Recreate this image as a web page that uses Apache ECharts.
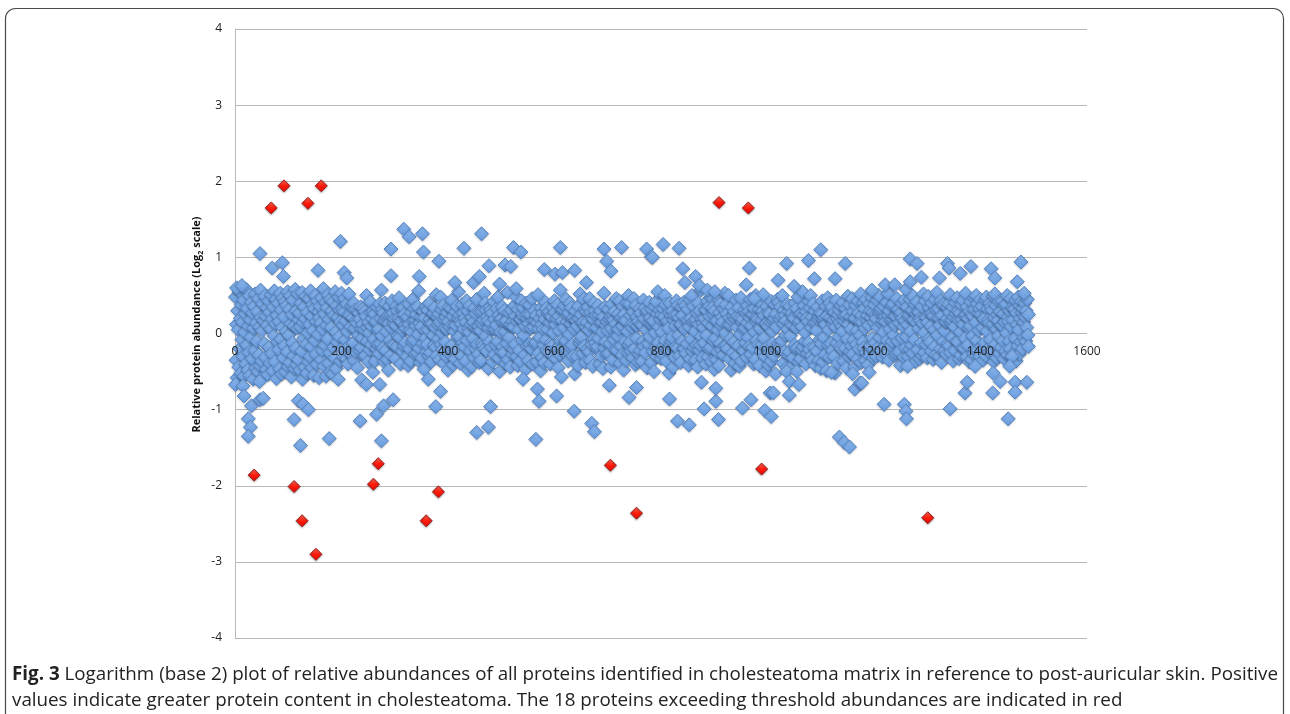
<!DOCTYPE html>
<html>
<head>
<meta charset="utf-8">
<script src="https://cdn.jsdelivr.net/npm/echarts@6/dist/echarts.min.js"></script>
<style>
html,body{margin:0;padding:0;background:#fff}
#main{width:1290px;height:714px}
</style>
</head>
<body>
<div id="main"></div>
<script>
// log2 ratios, x = protein index (1..1490), only the dense band around 0
const bandY = [
.48,-.35,.12,-.58,.3,.05,-.44,.55,-.2,.2,-.52,.38,-.08,.15,-.3,.44,-.56,.02,.26,-.4,
.58,-.15,.33,-.48,.1,-.25,.5,-.55,.18,-.05,.41,-.33,.27,-.6,.07,.36,-.22,.52,-.45,.14,
-.1,.29,-.5,.46,-.28,.09,-.42,.57,.21,-.36,.04,.39,-.57,.17,-.13,.49,-.31,.23,-.47,.34,
.11,-.54,.43,-.18,.28,-.39,.06,.51,-.26,.19,-.49,.35,-.03,.56,-.37,.13,.45,-.59,.24,-.11,
.4,-.21,.16,-.46,.53,-.07,.31,-.53,.08,.47,-.32,.22,-.16,.42,-.5,.03,.37,-.24,.55,-.43,
-.02,.32,-.38,.5,.13,-.57,.25,-.12,.44,-.29,.1,-.46,.58,-.19,.3,-.41,.07,.52,-.34,.18,
.27,-.48,.09,.4,-.23,.54,-.6,.15,-.06,.35,-.44,.2,.49,-.14,-.52,.28,.01,-.37,.46,.12,
-.3,.56,-.17,.23,-.45,.38,.04,-.55,.33,-.09,.5,-.27,.16,-.4,.43,-.01,.29,-.58,.21,.36,
.14,-.34,.47,-.22,.06,.59,-.43,.26,-.15,.41,-.56,.11,.34,-.07,.51,-.39,.19,-.25,.45,-.5,
.08,.3,-.53,.42,-.18,.24,-.32,.55,.02,-.46,.37,-.11,.22,-.6,.48,-.04,.31,-.36,.16,.53,
-.2,.33,.11,-.31,.29,.46,-.08,.17,-.33,.39,.03,-.4,.25,.52,-.16,.24,-.27,.09,.37,-.28,
.21,-.12,.4,-.35,.07,.31,-.24,.18,.14,-.45,.3,-.02,.27,-.22,.19,.35,-.18,.06,-.06,.12,
.33,-.3,.05,.29,-.29,.23,.5,-.1,.08,-.37,.15,.01,-.21,.42,.28,-.14,.1,.2,-.51,.3,
-.07,.26,-.36,.14,.16,-.2,.35,-.14,.03,.06,-.26,.39,-.13,.2,.57,-.03,.32,-.19,.27,-.37,
.18,.4,-.22,.03,.21,-.34,.24,-.48,.13,.36,-.09,.25,-.28,.08,.43,-.14,.27,.14,-.15,.19,
-.33,.11,.36,-.17,.3,-.03,.2,.47,-.05,.17,-.4,.16,.32,-.23,.04,.34,-.16,.25,.11,-.12,
.07,.2,-.3,.22,-.42,.39,.12,-.2,.04,-.36,.28,.02,-.11,.45,.17,-.08,.33,-.27,.18,.1,
.25,-.25,.35,-.01,.56,-.19,.14,-.38,.22,.09,-.32,.3,-.13,.29,-.47,.21,.04,-.06,.36,-.24,
-.14,.31,.05,-.29,.4,.19,-.25,.13,-.37,.13,.26,-.02,.27,-.15,.34,.08,-.18,.51,-.29,.22,
.12,-.07,.26,-.34,.15,.48,-.14,.32,.01,-.21,.37,-.39,.18,.07,-.11,.22,-.3,.06,.28,-.48,
.16,.35,-.26,.09,-.2,.33,.44,-.15,.23,-.41,.1,.03,-.33,.29,.11,-.22,.36,-.05,.2,.55,
-.04,.24,-.39,.17,.13,-.29,.38,-.12,.27,.06,-.17,.2,-.36,.15,.43,-.09,.3,-.48,.07,.02,
.37,-.23,.12,.22,-.43,.21,-.06,.15,-.31,.34,.08,-.2,.26,.45,-.14,.09,-.27,.1,-.38,.28,
.04,-.35,.14,-.12,.29,-.16,.18,.53,-.2,.4,-.03,.31,-.23,.22,.17,-.46,.07,-.11,.35,.14,
.31,-.18,.27,-.37,.06,.42,-.28,.19,.06,-.15,.11,.33,-.1,.48,-.32,.24,-.5,.19,.02,-.24,
.2,.35,-.17,.14,-.25,.3,.03,-.39,.14,.17,-.13,.54,-.34,.28,-.05,.11,-.44,.12,.31,-.19,
-.27,.16,.09,-.21,.37,-.14,.23,.48,-.3,.16,-.42,.32,.05,-.22,.19,-.36,.19,.43,-.08,.26,
.34,-.02,.22,-.28,.1,-.47,.4,.21,-.16,.25,-.35,.13,.38,-.14,.25,.07,-.2,.46,-.4,.17,
.09,-.13,.3,.18,-.11,.24,-.37,.14,.51,-.26,.06,-.05,.2,-.49,.34,.12,-.31,.27,.06,-.15,
-.38,.19,.41,-.08,.33,-.22,.06,.27,-.24,.29,.15,-.4,.23,-.12,.22,-.16,.35,.01,-.3,.43,
.28,.12,-.33,.2,-.19,.38,-.45,.23,.04,-.27,.57,-.1,.31,-.2,.17,.32,-.23,.08,.37,-.11,
-.09,.45,-.21,.16,.24,-.36,.27,-.01,.4,-.18,.13,.34,-.15,.19,-.3,.21,.06,-.53,.3,.18,
.17,-.3,.1,-.42,.36,.2,-.12,.52,-.08,.25,-.04,.14,-.26,.15,.45,-.17,.32,-.38,.09,.29,
.15,-.2,.35,.05,-.24,.46,-.35,.28,.11,-.14,.21,-.43,.19,.4,-.07,.3,-.12,.24,.08,-.2,
-.17,.37,-.06,.25,-.4,.14,.3,-.29,.15,.02,-.46,.22,.53,-.19,.35,-.11,.11,-.27,.16,.04,
.32,-.26,.19,-.13,.23,-.44,.07,.39,-.34,.24,.18,-.08,.29,-.21,.13,.46,-.22,.05,-.03,.26,
.06,.43,-.39,.2,-.16,.22,-.28,.1,.36,-.48,.25,.17,-.1,.17,-.35,.4,.03,-.25,.5,-.15,
.39,-.11,.24,-.23,.12,.08,-.32,.29,.46,-.2,.12,-.41,.37,-.06,.22,.1,-.37,.16,-.27,.33,
-.22,.27,.13,-.36,.11,-.1,.44,-.17,.2,.34,-.25,.05,.28,-.45,.3,-.13,.14,.41,-.04,.21,
.13,-.38,.32,.16,-.23,.17,-.5,.36,.01,-.18,.42,-.3,.26,.55,-.12,.09,-.24,.31,.19,-.33,
.25,.02,-.27,.33,-.16,.22,.5,-.09,.38,-.36,.15,-.21,.17,.07,-.52,.28,.4,-.14,.24,-.1,
-.05,.3,-.44,.18,.24,-.31,.1,-.17,.43,.25,-.19,.37,-.02,.21,-.29,.12,-.38,.12,.35,-.1,
.24,-.19,.41,-.2,.06,.37,-.26,.16,-.13,.18,.32,-.42,.09,.45,-.33,.2,-.07,.5,-.23,.15,
.36,-.18,.17,.03,-.35,.19,-.15,.27,-.44,.4,.12,-.22,.3,-.15,.57,-.04,.19,-.32,.14,.08,
-.12,.2,.32,-.4,.31,-.02,.43,-.3,.14,-.2,.36,.23,-.18,.48,-.37,.1,.34,-.09,.25,-.47,
.3,-.06,.16,-.34,.17,-.24,.05,.45,-.42,.28,-.13,.39,.11,-.21,.22,.15,-.28,.33,-.16,.53,
.01,.38,-.15,.26,-.2,.12,.5,-.33,.21,.12,-.07,-.48,.35,.17,-.25,.24,-.11,.29,-.39,.19,
.44,-.29,.08,.23,-.16,.34,-.43,.2,-.01,.47,-.36,.15,.19,-.21,.06,-.23,.31,.08,-.12,.27,
-.31,.14,.37,-.05,.29,-.17,.21,.45,-.27,.1,.26,-.18,.25,-.4,.33,.02,-.34,.5,.16,-.09,
.22,.19,-.14,.32,-.42,.07,.4,-.23,.18,-.14,.3,.51,-.06,.24,-.3,.13,-.49,.13,.36,-.17,
.1,-.41,.28,.26,-.25,.15,-.36,.42,.03,-.13,.17,-.29,.2,.38,-.53,.26,.09,-.21,.45,-.13,
.41,-.16,.19,-.18,.35,.23,-.09,.5,-.39,.13,.31,-.24,.24,-.02,.17,-.45,.38,.06,-.28,.29,
-.24,.36,-.03,.14,-.43,.27,.11,-.32,.22,.2,-.15,.4,-.2,.08,.33,-.19,.48,-.37,.14,.25,
.17,-.33,.26,-.21,.09,.55,-.17,.24,.37,-.1,.01,-.4,.29,.2,-.26,.16,-.12,.42,-.21,.34,
.5,.08,-.29,.22,-.35,.39,.14,-.18,.3,-.42,.15,.04,-.23,.35,.19,-.35,.23,-.08,.27,-.46,
-.13,.26,.43,-.37,.18,-.05,.21,-.28,.12,.36,-.49,.23,.47,-.15,.05,-.31,.4,.21,-.13,.32,
.35,-.22,.13,.18,-.3,.28,-.52,.09,.44,-.12,.2,-.39,.25,-.04,.31,.14,-.17,.37,-.2,.1,
.03,.41,-.36,.17,.23,-.19,.33,-.45,.25,-.07,.49,.12,-.3,.38,-.24,.22,.06,-.16,.46,-.27,
.29,-.08,.2,-.44,.2,.37,-.14,.04,-.33,.43,.27,-.2,.16,-.02,.52,-.38,.24,.15,-.11,.41,
-.19,.33,.07,-.35,.45,-.25,.18,.24,-.41,.11,-.17,.39,.3,-.16,.21,.48,-.06,.28,-.32,.15,
.38,-.12,.25,.2,-.3,.44,.08,-.18,.5,.27,-.05,.3,-.22,.33,.13,-.31,.17,.02,.36,-.18,
.22,.16,-.27,.41,-.09,.53,.24,-.35,.3,.06,.18,-.16,.37,-.1,.19,.39,-.02,.23,-.29,.11,
.23,-.26,.46,.31,-.1,.32,-.24,.14,.25,-.42,.28,.4,-.06,.2,.09,-.31,.44,.17,-.19,.58,
-.04,.35,.12,-.3,.22,.25,-.2,.45,.03,.3,-.15,.31,-.26,.49,.18,-.08,.38,-.37,.26,.14,
.42,-.21,.29,.07,.28,-.33,.2,.17,-.12,.36,-.29,.13,.52,.01,-.25,.43,.22,-.14,.21,-.32,
.15,.49,-.07,.34,-.11,.26,.1,-.23,.4,.27,-.34,.23,.05,-.17,.45,-.28,.31,.54,-.02,.21,
.33,-.3,.2,.11,-.2,.43,-.38,.24,.39,-.1,.37,.04,-.22,.16,.16,-.27,.35,.2,-.13,.39,
-.16,.28,.51,-.25,.14,.18,-.05,.35,-.36,.22,.09,-.22,.41,.26,-.1,.47,-.11,.3,.18,-.33,
.27,.02,-.28,.38,.19,-.19,.44,.12,-.19,.24,-.06,.53,.25,-.31,.35,-.15,.2,.07,-.37,.29,
.1,.42,-.34,.26,-.03,.23,-.26,.47,.32,-.21,.15,.5,-.09,.39,-.21,.27,.04,.33,-.3,.45,
.25,-.17,.36,.08,-.35,.21,.19,-.12,.44,-.29,.48,.03,.33,-.2,.18,.14,-.24,.4,-.08,.35,
-.22,.31,.13,.49,-.37,.21,.52,-.14,.37,.06,-.32,.25,.17,-.03,.42,-.26,.29,.11,-.18,.11,
.43,-.09,.26,-.33,.37,.15,-.23,.39,.01,.5,-.28,.22,.16,-.1,.3,-.2,.46,.09,-.3,.35,
.18,.33,-.25,.32,-.06,.44,-.36,.27,.12,-.16,.48,.05,-.27,.37,.2,-.11,.42,.28,-.2,.33,
.15,-.05,.4,.22,-.1,.3,.08,.45,-.02,.25
];

// blue proteins outside the band [index, log2]
const blueOut = [
[3,.6],[13,.63],[47,1.05],[70,.86],[89,.93],[91,.75],[156,.83],[198,1.21],[205,.8],[210,.73],
[293,1.11],[293,.76],[317,1.37],[327,1.27],[352,1.31],[354,1.07],[346,.75],[383,.95],[413,.67],[430,1.12],
[448,.67],[459,.75],[463,1.31],[477,.89],[497,.65],[507,.9],[518,.88],[523,1.13],[528,.59],[537,1.07],
[581,.84],[601,.78],[611,1.13],[615,.8],[638,.83],[660,.67],[693,1.11],[698,.95],[706,.82],[726,1.13],
[773,1.11],[782,1.01],[784,1.0],[804,1.17],[834,1.12],[841,.85],[845,.67],[865,.75],[872,.63],[887,.57],
[901,.55],[960,.64],[966,.86],[975,.46],[1020,.7],[1036,.92],[1050,.62],[1077,.96],[1088,.72],[1100,1.1],
[1127,.72],[1146,.92],[1196,.57],[1221,.64],[1239,.64],[1268,.98],[1268,.68],[1281,.92],[1289,.74],[1323,.73],
[1338,.92],[1341,.86],[1362,.79],[1382,.88],[1420,.85],[1427,.73],[1469,.68],[1476,.94],[1482,.53],
[1,-.67],[15,-.69],[17,-.82],[31,-.95],[47,-.87],[53,-.85],[25,-1.12],[29,-1.23],[25,-1.35],[46,-.63],
[119,-.88],[128,-.93],[138,-1.0],[111,-1.13],[123,-1.47],[177,-1.38],[235,-1.15],[238,-.61],[247,-.67],[272,-.67],
[266,-1.06],[279,-.95],[297,-.87],[275,-1.41],[363,-.6],[386,-.76],[377,-.96],[454,-1.3],[476,-1.23],[480,-.96],
[541,-.6],[568,-.73],[571,-.89],[565,-1.39],[604,-.82],[613,-.57],[637,-1.02],[670,-1.18],[675,-1.29],[703,-.68],
[740,-.84],[754,-.71],[816,-.86],[831,-1.15],[853,-1.2],[881,-.99],[903,-.89],[903,-.72],[908,-1.13],[876,-.64],
[953,-.98],[969,-.87],[995,-1.01],[1007,-1.09],[1005,-.78],[1011,-.78],[1041,-.81],[1036,-.5],[1055,-.5],[1041,-.63],
[1059,-.67],[1120,-.51],[1135,-1.36],[1144,-1.43],[1154,-1.49],[1160,-.53],[1164,-.73],[1174,-.65],[1177,-.65],[1191,-.51],
[1219,-.93],[1257,-.93],[1260,-1.02],[1261,-1.12],[1263,-.43],[1343,-.99],[1371,-.78],[1375,-.64],[1390,-.43],[1423,-.78],
[1424,-.52],[1437,-.63],[1452,-1.12],[1465,-.64],[1465,-.77],[1487,-.64],[1459,-.3],[1455,-.43],[1490,-.17]
];

// the 18 over threshold
const redX = [36,68,92,111,126,137,152,162,260,269,359,382,705,754,909,964,989,1301];
const redY = [-1.86,1.65,1.94,-2.01,-2.46,1.71,-2.9,1.94,-1.98,-1.71,-2.46,-2.08,-1.73,-2.36,1.72,1.65,-1.78,-2.42];

const yTicks = [-4, 4, 1];
const xTicks = [0, 1600, 200];

const caption1 = 'Logarithm (base 2) plot of relative abundances of all proteins identified in cholesteatoma matrix in reference to post-auricular skin. Positive';
const caption2 = 'values indicate greater protein content in cholesteatoma. The 18 proteins exceeding threshold abundances are indicated in red';

let myChart = null;

function drawScatter(dom) {
    myChart = echarts.init(dom, null, {renderer: 'canvas'});

    const blueData = bandY.map((v, i) => [i + 1, v]).concat(blueOut);
    const redData = redX.map((x, i) => [x, redY[i]]);
    const gridColor = '#b8b8b8';
    const plotH = 609;
    // shift the x axis up so its labels sit under the y=0 line (onZero did nothing here)
    const zeroShift = -plotH * (0 - yTicks[0]) / (yTicks[1] - yTicks[0]);

    myChart.setOption({
        animation: false,
        grid: {left: 235, top: 29, width: 852, height: plotH},
        xAxis: {
            type: 'value',
            z: 10, // labels drawn over the points, as in excel
            min: xTicks[0], max: xTicks[1], interval: xTicks[2],
            offset: zeroShift,
            axisLine: {show: false, onZero: false},
            axisTick: {show: false},
            splitLine: {show: false},
            axisLabel: {
                color: '#222', fontSize: 12, fontFamily: 'Open Sans', margin: 12,
                formatter: v => String(v),
            },
        },
        yAxis: {
            type: 'value',
            min: yTicks[0], max: yTicks[1], interval: yTicks[2],
            axisLine: {show: true, onZero: false, lineStyle: {color: gridColor}},
            axisTick: {show: false},
            splitLine: {lineStyle: {color: gridColor}},
            axisLabel: {color: '#222', fontSize: 12, fontFamily: 'Open Sans', margin: 13},
            name: '{a|Relative protein abundance (Log}{s|2}{a| scale)}',
            nameLocation: 'middle',
            nameGap: 31,
            nameMoveOverlap: false,
            nameTextStyle: {
                padding: [0, 0, 0, 18],
                rich: {
                    a: {fontSize: 11, fontWeight: 'bold', fontFamily: 'Open Sans', color: '#111', lineHeight: 14},
                    s: {fontSize: 7, fontWeight: 'bold', fontFamily: 'Open Sans', color: '#111', lineHeight: 14, verticalAlign: 'bottom'},
                },
            },
        },
        series: [{
            name: 'all',
            type: 'scatter',
            symbol: 'diamond',
            symbolSize: 14,
            data: blueData,
            itemStyle: {
                color: new echarts.graphic.LinearGradient(0, 0, 0, 1, [
                    {offset: 0, color: '#8cb8ed'},
                    {offset: 1, color: '#6699dc'},
                ]),
                borderColor: '#5686c6',
                borderWidth: 1,
                opacity: 1,
                shadowBlur: 2,
                shadowOffsetY: 1,
                shadowColor: 'rgba(0,0,0,0.2)',
            },
            emphasis: {disabled: true},
        }, {
            name: 'threshold',
            type: 'scatter',
            symbol: 'diamond',
            symbolSize: 12,
            z: 3,
            data: redData,
            itemStyle: {
                color: new echarts.graphic.LinearGradient(0, 0, 0, 1, [
                    {offset: 0, color: '#ff7060'},
                    {offset: 0.5, color: '#ff1c0c'},
                    {offset: 1, color: '#e00800'},
                ]),
                borderColor: '#9a2020',
                borderWidth: 1,
                opacity: 1,
                shadowBlur: 2,
                shadowOffsetY: 1,
                shadowColor: 'rgba(0,0,0,0.3)',
            },
            emphasis: {disabled: true},
        }],
        graphic: [{
            type: 'rect',
            silent: true,
            shape: {x: 5.5, y: 8.5, width: 1278, height: 760, r: 10},
            style: {fill: 'none', stroke: '#4a4a4a', lineWidth: 1.2},
        }, {
            type: 'text',
            silent: true,
            left: 12,
            top: 662,
            style: {
                text: '{b|Fig. 3} ' + caption1 + '\n' + caption2,
                fontSize: 18.8,
                fontFamily: 'Open Sans',
                fill: '#222',
                lineHeight: 26,
                rich: {
                    b: {fontSize: 18.8, fontFamily: 'Open Sans', fontWeight: 'bold', fill: '#222', lineHeight: 26},
                },
            },
        }],
    });
}

drawScatter(document.getElementById('main'));
</script>
</body>
</html>
